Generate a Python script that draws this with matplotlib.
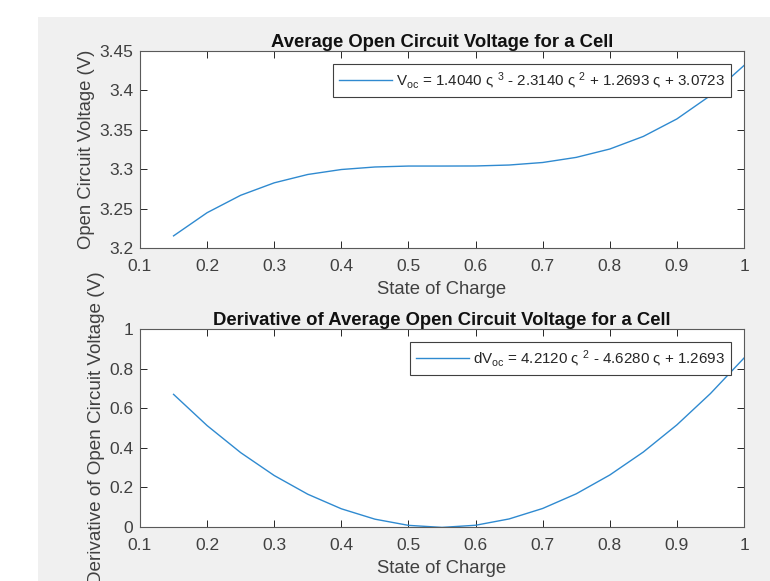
import matplotlib
matplotlib.use("Agg")
import matplotlib.pyplot as plt
from matplotlib.patches import Rectangle
from matplotlib.ticker import FuncFormatter

plt.rcParams["font.family"] = ["Liberation Sans", "DejaVu Sans"]
plt.rcParams["mathtext.fontset"] = "custom"
plt.rcParams["mathtext.rm"] = "Liberation Sans"
plt.rcParams["mathtext.it"] = "Liberation Sans:italic"
plt.rcParams["mathtext.bf"] = "Liberation Sans:bold"

# state of charge samples
soc = [0.15, 0.20, 0.25, 0.30, 0.35, 0.40, 0.45, 0.50, 0.55,
       0.60, 0.65, 0.70, 0.75, 0.80, 0.85, 0.90, 0.95, 1.00]
# average open circuit voltage (V)
voc = [3.2154, 3.2448, 3.2669, 3.2827, 3.2933, 3.2996, 3.3028, 3.3040, 3.3040,
       3.3041, 3.3053, 3.3085, 3.3150, 3.3256, 3.3416, 3.3638, 3.3935, 3.4316]
# derivative of voc
dvoc = [0.6699, 0.5122, 0.3756, 0.2600, 0.1655, 0.0920, 0.0396, 0.0083, -0.0020,
        0.0088, 0.0407, 0.0936, 0.1676, 0.2626, 0.3787, 0.5158, 0.6740, 0.8533]

xticks = [0.1, 0.2, 0.3, 0.4, 0.5, 0.6, 0.7, 0.8, 0.9, 1.0]
voc_ticks = [3.2, 3.25, 3.3, 3.35, 3.4, 3.45]
dvoc_ticks = [0, 0.2, 0.4, 0.6, 0.8, 1.0]

voc_label = r"$\mathrm{V}_{\mathrm{oc}}$ = 1.4040 ς $^{3}$ - 2.3140 ς $^{2}$ + 1.2693 ς + 3.0723"
dvoc_label = r"d$\mathrm{V}_{\mathrm{oc}}$ = 4.2120 ς $^{2}$ - 4.6280 ς + 1.2693"

line_color = "#2f8ad0"
ax_color = "#262626"
txt_color = "#404040"

fig = plt.figure(figsize=(7.7, 5.81), dpi=100, facecolor="white")
fig.patches.append(Rectangle((38 / 770, 0), 1 - 38 / 770, 1 - 17 / 581,
                             transform=fig.transFigure, facecolor="#f0f0f0",
                             edgecolor="none", zorder=-10))

gfmt = FuncFormatter(lambda v, p: f"{v:g}")


def style(ax, yticks, ylim):
    ax.set_xlim(0.1, 1.0)
    ax.set_ylim(*ylim)
    ax.set_xticks(xticks)
    ax.set_yticks(yticks)
    ax.xaxis.set_major_formatter(gfmt)
    ax.yaxis.set_major_formatter(gfmt)
    ax.tick_params(direction="in", top=True, right=True, length=5, width=0.7,
                   colors=ax_color, labelcolor=txt_color, labelsize=12.5)
    ax.tick_params(axis="x", pad=8)
    ax.tick_params(axis="y", pad=5)
    for s in ax.spines.values():
        s.set_color("#5a5a5a")
        s.set_linewidth(0.8)
    ax.set_xlabel("State of Charge", fontsize=13.3, color=txt_color, labelpad=5)


def add_legend(ax):
    leg = ax.legend(loc="upper right", fontsize=10.9, handlelength=3.5,
                    handletextpad=0.3, fancybox=False, framealpha=1,
                    edgecolor="#404040", borderaxespad=0.85, borderpad=0.4)
    leg.get_frame().set_linewidth(0.8)
    for t in leg.get_texts():
        t.set_color("#262626")


ax1 = fig.add_axes([140 / 770, 1 - 248 / 581, 604 / 770, 197 / 581])
ax1.plot(soc, voc, color=line_color, lw=1.0, label=voc_label)
style(ax1, voc_ticks, (3.2, 3.45))
ax1.set_ylabel("Open Circuit Voltage (V)", fontsize=13.3, color=txt_color, labelpad=3)
ax1.set_title("Average Open Circuit Voltage for a Cell", fontsize=13.3,
              fontweight="bold", color="#111111", pad=3)
add_legend(ax1)

ax2 = fig.add_axes([140 / 770, 1 - 527 / 581, 604 / 770, 198 / 581])
ax2.plot(soc, dvoc, color=line_color, lw=1.0, label=dvoc_label)
style(ax2, dvoc_ticks, (0, 1))
ax2.set_ylabel("Derivative of Open Circuit Voltage (V)", fontsize=13.6,
               color=txt_color, labelpad=3)
ax2.set_title("Derivative of Average Open Circuit Voltage for a Cell", fontsize=13.3,
              fontweight="bold", color="#111111", pad=3)
add_legend(ax2)

fig.savefig("out.png", dpi=100, facecolor=fig.get_facecolor())
